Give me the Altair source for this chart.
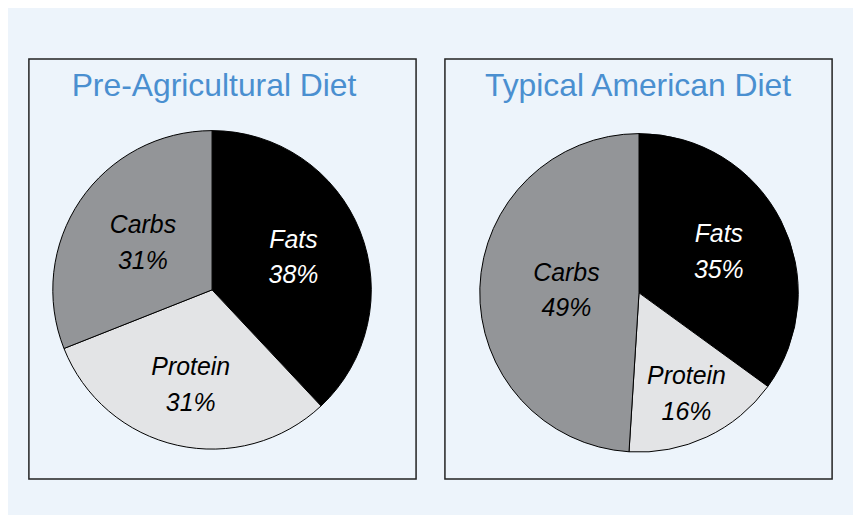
import altair as alt
import pandas as pd

# ---- data ----
nutrients = ["Fats", "Protein", "Carbs"]
slice_order = [0, 1, 2]
pre_agricultural = [38, 31, 31]
typical_american = [35, 16, 49]
titles = ["Pre-Agricultural Diet", "Typical American Diet"]

# ---- style ----
SLICE_COLORS = ["#000000", "#e3e4e6", "#939598"]
BG = "#edf4fb"
TITLE_COLOR = "#4a8fd0"
FONT = "Liberation Sans"
PANEL_W, PANEL_H = 389, 422
PIE_R = 160
LINE_H = 36


def panel(values, title, cx, cy, tx, label_r):
    df = pd.DataFrame({
        "nutrient": nutrients,
        "value": values,
        "order": slice_order,
    })
    df["label"] = [f"{n}\n{v}%" for n, v in zip(nutrients, values)]
    base = alt.Chart(df)
    theta_scale = alt.Scale(domain=[0, 100])

    arcs = base.mark_arc(radius=PIE_R, stroke="#000000", strokeWidth=1).encode(
        theta=alt.Theta("value:Q", stack=True, scale=theta_scale),
        order=alt.Order("order:Q"),
        color=alt.Color("nutrient:N",
                        scale=alt.Scale(domain=nutrients, range=SLICE_COLORS),
                        legend=None),
        x=alt.value(cx),
        y=alt.value(cy),
    )

    layers = [arcs]
    for n in nutrients:
        txt = (
            base.transform_window(cum="sum(value)", sort=[alt.SortField("order")],
                                  frame=[None, 0])
            .transform_calculate(mid="datum.cum - datum.value / 2")
            .transform_filter(alt.datum.nutrient == n)
            .mark_text(radius=label_r[n], font=FONT, fontSize=25, fontStyle="italic",
                       lineBreak="\n", lineHeight=LINE_H, align="center",
                       baseline="middle", dy=-LINE_H / 2,
                       color="#ffffff" if n == "Fats" else "#000000")
            .encode(
                theta=alt.Theta("mid:Q", stack=None, scale=theta_scale),
                text="label:N",
                x=alt.value(cx),
                y=alt.value(cy),
            )
        )
        layers.append(txt)

    ttl = alt.Chart(pd.DataFrame({"t": [title]})).mark_text(
        font=FONT, fontSize=32, color=TITLE_COLOR, align="center", baseline="alphabetic"
    ).encode(text="t:N", x=alt.value(tx), y=alt.value(37))
    layers.append(ttl)

    return alt.layer(*layers).properties(width=PANEL_W, height=PANEL_H)


left = panel(pre_agricultural, titles[0], 184, 232, 186,
             {"Fats": 88, "Protein": 98, "Carbs": 84})
right = panel(typical_american, titles[1], 195, 235, 194,
              {"Fats": 90, "Protein": 112, "Carbs": 73})

chart = (
    alt.hconcat(left, right, spacing=27)
    .properties(background=BG, padding={"left": 20, "top": 49, "right": 20, "bottom": 34})
    .configure_view(stroke="#222222", strokeWidth=1.5, fill=BG)
)

chart.save("out.html", embed_options={"renderer": "svg", "actions": False})
